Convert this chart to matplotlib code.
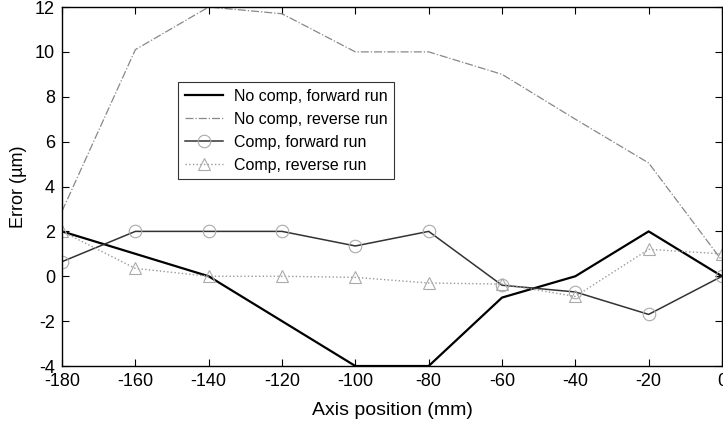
import matplotlib
matplotlib.use("Agg")
import matplotlib.pyplot as plt

plt.rcParams['font.family'] = ['Liberation Sans', 'DejaVu Sans']
plt.rcParams['axes.unicode_minus'] = False

x_pos = [-180, -160, -140, -120, -100, -80, -60, -40, -20, 0]
nocomp_fwd = [2.0, 1.0, 0.0, -2.0, -4.0, -4.0, -0.95, 0.0, 2.0, 0.0]
nocomp_rev = [2.9, 10.1, 12.0, 11.7, 10.0, 10.0, 9.0, 7.0, 5.05, 0.7]
comp_fwd = [0.65, 2.0, 2.0, 2.0, 1.35, 2.0, -0.4, -0.7, -1.7, 0.0]
comp_rev = [2.0, 0.35, 0.0, 0.0, -0.05, -0.3, -0.35, -0.9, 1.2, 1.0]

xticks = [-180, -160, -140, -120, -100, -80, -60, -40, -20, 0]
yticks = [-4, -2, 0, 2, 4, 6, 8, 10, 12]

fig = plt.figure(figsize=(7.23, 4.25), dpi=100)
ax = fig.add_axes([0.0858, 0.1388, 0.9128, 0.8447])

ax.plot(x_pos, nocomp_fwd, color='black', lw=1.6, label='No comp, forward run')
ax.plot(x_pos, nocomp_rev, color='#888888', lw=0.9, ls='-.', label='No comp, reverse run')
ax.plot(x_pos, comp_fwd, color='#333333', lw=1.1, marker='o', ms=9, mfc='none',
        mec='#aaaaaa', mew=0.8, label='Comp, forward run')
ax.plot(x_pos, comp_rev, color='#999999', lw=1.0, ls=':', marker='^', ms=9, mfc='none',
        mec='#aaaaaa', mew=0.8, label='Comp, reverse run')

ax.set_xlim(-180, 0)
ax.set_ylim(-4, 12)
ax.set_xticks(xticks)
ax.set_yticks(yticks)
ax.tick_params(direction='in', top=True, right=True, labelsize=13, length=5, width=0.8, pad=5)
for s in ax.spines.values():
    s.set_linewidth(1.0)

ax.set_xlabel('Axis position (mm)', fontsize=14, labelpad=9)
ax.set_ylabel('Error (\u00b5m)', fontsize=13, labelpad=6)

leg = ax.legend(loc='upper left', bbox_to_anchor=(0.176, 0.79), fontsize=11.5,
                frameon=True, fancybox=False, edgecolor='black', borderpad=0.4,
                labelspacing=0.5, handlelength=2.4, handletextpad=0.7, borderaxespad=0)
leg.get_frame().set_linewidth(0.8)

fig.savefig('out.png', dpi=100)
